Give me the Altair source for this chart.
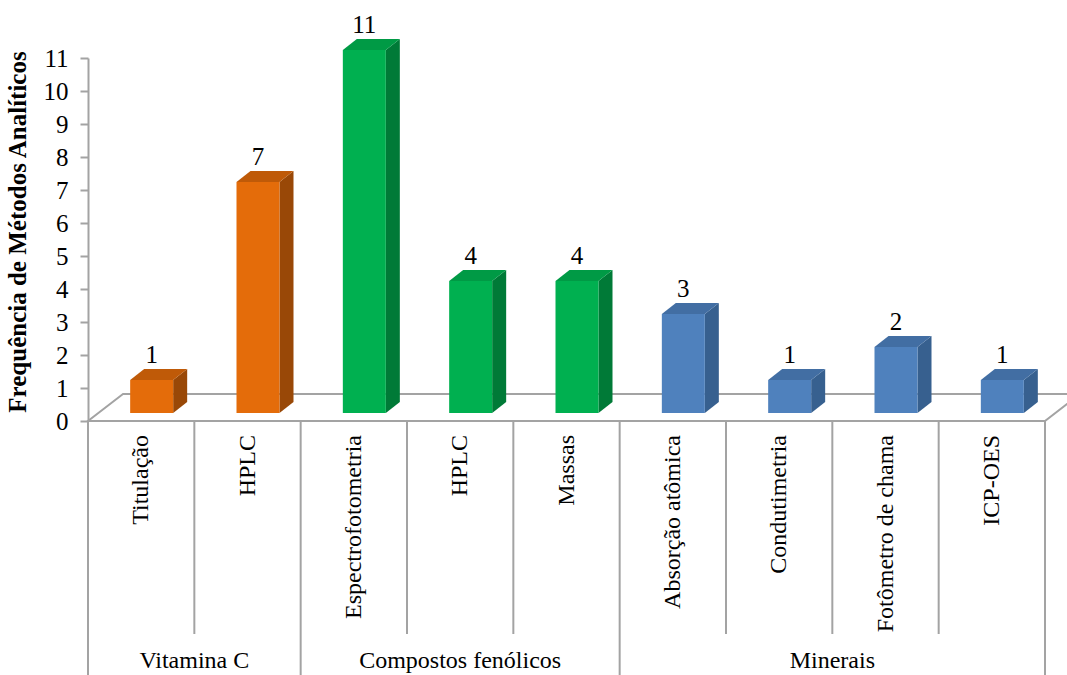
import altair as alt
import pandas as pd

# ---- data ----
categories = ["Titulação", "HPLC", "Espectrofotometria", "HPLC", "Massas",
              "Absorção atômica", "Condutimetria", "Fotômetro de chama", "ICP-OES"]
groups = ["Vitamina C", "Vitamina C", "Compostos fenólicos", "Compostos fenólicos",
          "Compostos fenólicos", "Minerais", "Minerais", "Minerais", "Minerais"]
values = [1, 7, 11, 4, 4, 3, 1, 2, 1]
group_names = ["Vitamina C", "Compostos fenólicos", "Minerais"]
y_ticks = list(range(0, 12))

# ---- styling ----
palette = {
    "Vitamina C": ("#E46C0A", "#BF5A08", "#994807"),
    "Compostos fenólicos": ("#00B050", "#009A45", "#007A37"),
    "Minerais": ("#4F81BD", "#426EA3", "#37608F"),
}
FONT = "Liberation Serif"
GRAY = "#A3A3A3"
W, H = 957, 363
N = len(categories)
YMAX = 11
PXX = W / N          # px per x unit
PXY = H / YMAX       # px per y unit

floor_dx, floor_dy = 35 / PXX, 27 / PXY
front_dx, front_dy = 10.5 / PXX, 8 / PXY
side_dx, side_dy = 14 / PXX, 11 / PXY
bar_w = 43 / PXX

rows, side_rows, top_rows = [], [], []
for i, (c, g, v) in enumerate(zip(categories, groups, values)):
    center = i + 0.5
    fx0 = center + front_dx - bar_w / 2
    fx1 = center + front_dx + bar_w / 2
    fy0, fy1 = front_dy, v + front_dy
    front, top, side = palette[g]
    rows.append(dict(idx=i, cat=c, group=g, value=v, center=center, fc=center + front_dx,
                     fx0=fx0, fx1=fx1, fy0=fy0, fy1=fy1, ylab=fy1 + side_dy, color=front))
    side_rows.append(dict(idx=i, x=fx1, lo=fy0, hi=fy1, color=side))
    side_rows.append(dict(idx=i, x=fx1 + side_dx, lo=fy0 + side_dy, hi=fy1 + side_dy, color=side))
    top_rows.append(dict(idx=i, y=fy1, lo=fx0, hi=fx1, color=top))
    top_rows.append(dict(idx=i, y=fy1 + side_dy, lo=fx0 + side_dx, hi=fx1 + side_dx, color=top))

bars = pd.DataFrame(rows)
sides = pd.DataFrame(side_rows)
tops = pd.DataFrame(top_rows)
floor = pd.DataFrame([dict(y=0, lo=0, hi=N), dict(y=floor_dy, lo=floor_dx, hi=N + floor_dx)])

# group spans
gstart = {}
gend = {}
for i, g in enumerate(groups):
    gstart.setdefault(g, i)
    gend[g] = i + 1
grp = pd.DataFrame([dict(group=g, mid=(gstart[g] + gend[g]) / 2) for g in group_names])
long_div = pd.DataFrame({"x": sorted({0, N} | set(gstart.values()))})
short_div = pd.DataFrame({"x": [i for i in range(1, N) if i not in set(gstart.values())]})

xs = alt.Scale(domain=[0, N], nice=False, zero=False)
ys = alt.Scale(domain=[0, YMAX], nice=False)

YAX = alt.Axis(
    values=y_ticks, tickCount=12, grid=False, domainColor=GRAY, domainWidth=2,
    tickColor=GRAY, tickWidth=2, tickSize=8, labelFont=FONT, labelFontSize=25,
    labelColor="black", labelPadding=12, labelOverlap=False, labelFlush=False,
    title="Frequência de Métodos Analíticos", titleFont=FONT,
    titleFontSize=25, titleFontWeight="bold", titleColor="black", titlePadding=13,
    titleY=H / 2 - 8)


def Y(field):
    return alt.Y(field, scale=ys, axis=YAX)


def X(field):
    return alt.X(field, scale=xs, axis=None)


floor_layer = alt.Chart(floor).mark_area(
    orient="horizontal", fill="white", stroke=GRAY, strokeWidth=2
).encode(y=Y("y:Q"), x=X("lo:Q"), x2="hi:Q")

side_layer = alt.Chart(sides).mark_area(orient="vertical").encode(
    x=X("x:Q"), y=Y("hi:Q"), y2="lo:Q",
    detail="idx:N", color=alt.Color("color:N", scale=None),
)
top_layer = alt.Chart(tops).mark_area(orient="horizontal").encode(
    y=Y("y:Q"), x=X("lo:Q"), x2="hi:Q",
    detail="idx:N", color=alt.Color("color:N", scale=None),
)
front_layer = alt.Chart(bars).mark_rect().encode(
    x=X("fx0:Q"), x2="fx1:Q", y=Y("fy0:Q"), y2="fy1:Q",
    color=alt.Color("color:N", scale=None),
)
value_labels = alt.Chart(bars).mark_text(
    font=FONT, fontSize=25, color="black", baseline="alphabetic", dy=-6
).encode(x=X("fc:Q"), y=Y("ylab:Q"), text="value:Q")

cat_labels = alt.Chart(bars).mark_text(
    font=FONT, fontSize=24, color="black", angle=270, align="right", baseline="middle"
).encode(x=X("center:Q"), y=alt.value(H + 14), text="cat:N")

group_labels = alt.Chart(grp).mark_text(
    font=FONT, fontSize=24, color="black", baseline="middle"
).encode(x=X("mid:Q"), y=alt.value(603), text="group:N")

long_rules = alt.Chart(long_div).mark_rule(color=GRAY, strokeWidth=2).encode(
    x=X("x:Q"), y=alt.value(H), y2=alt.value(620))
short_rules = alt.Chart(short_div).mark_rule(color=GRAY, strokeWidth=2).encode(
    x=X("x:Q"), y=alt.value(H), y2=alt.value(576))

chart = alt.layer(
    floor_layer, long_rules, short_rules, side_layer, top_layer, front_layer,
    value_labels, cat_labels, group_labels
).properties(
    width=W, height=H,
    autosize=alt.AutoSizeParams(type="none"),
    padding={"left": 88, "top": 58, "right": 22, "bottom": 254},
    background="white",
).configure_view(stroke=None)

chart.save("out.html", embed_options={"renderer": "svg", "actions": False})
